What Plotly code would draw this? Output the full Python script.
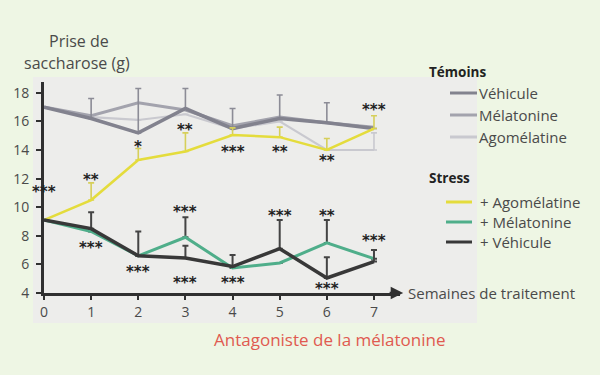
import plotly.graph_objects as go

# ---------------- data ----------------
weeks = [0, 1, 2, 3, 4, 5, 6, 7]
week_labels = ["0", "1", "2", "3", "4", "5", "6", "7"]
y_ticks = [4, 6, 8, 10, 12, 14, 16, 18]

# Témoins (controls)
temoin_vehicule = [17.0, 16.2, 15.2, 16.9, 15.5, 16.2, 15.9, 15.5]
temoin_melatonine = [17.0, 16.4, 17.3, 16.8, 15.7, 16.3, 15.9, 15.6]
temoin_agomelatine = [17.0, 16.3, 16.1, 16.5, 15.5, 16.0, 14.0, 14.0]
temoin_vehicule_err = [None, 1.4, 3.1, 1.4, 1.4, 1.65, 1.4, None]
temoin_agomelatine_err = [None, None, None, None, None, None, None, 1.2]

# Stress
stress_agomelatine = [9.1, 10.5, 13.3, 13.9, 15.05, 14.9, 14.0, 15.5]
stress_melatonine = [9.1, 8.3, 6.6, 7.9, 5.75, 6.1, 7.5, 6.4]
stress_vehicule = [9.1, 8.5, 6.6, 6.45, 5.85, 7.1, 5.05, 6.2]
stress_agomelatine_err = [None, 1.2, 0.8, 1.3, 0.5, 0.7, 0.8, 0.9]
stress_melatonine_err = [None, None, None, 1.4, None, None, 1.6, None]
stress_vehicule_err = [None, 1.15, 1.7, 0.85, 0.8, 2.0, 1.45, 0.8]

# significance marks (week, value where the mark sits, text)
sig_agomelatine_weeks = [0, 1, 2, 3, 4, 5, 6, 7]
sig_agomelatine_at = [11.34, 12.18, 14.49, 15.68, 14.14, 14.14, 13.51, 17.08]
sig_agomelatine_txt = ["***", "**", "*", "**", "***", "**", "**", "***"]

sig_stress_weeks = [1, 2, 3, 3, 4, 5, 6, 6, 7]
sig_stress_at = [7.43, 5.75, 9.94, 4.98, 4.98, 9.66, 9.66, 4.56, 7.92]
sig_stress_txt = ["***", "***", "***", "***", "***", "***", "**", "***", "***"]

antagonist_week = 6

# ---------------- layout constants ----------------
W, H = 600, 375
ML, MR, MT, MB = 44, 200, 82, 82
PW, PH = W - ML - MR, H - MT - MB
X_RANGE = [0, 7.552]
Y_RANGE = [4, 18.755]

FONT = "Open Sans"
TXT = "#4a4a4a"
AX = "#303030"

def px(x):
    return (x - ML) / PW

def py(y):
    return (H - MB - y) / PH

C_TV = "#82828e"
C_TM = "#a3a3ad"
C_TA = "#c9c9cf"
C_SA = "#e4dc3c"
C_SM = "#4fae8a"
C_SV = "#383838"

fig = go.Figure()

def err(arr, color, thick=1.6, width=3):
    return dict(type="data", symmetric=False, array=arr,
                arrayminus=[0 if a is not None else None for a in arr],
                color=color, thickness=thick, width=width, visible=True)

# control lines
fig.add_trace(go.Scatter(x=weeks, y=temoin_agomelatine, mode="lines",
                         line=dict(color=C_TA, width=2.2),
                         error_y=err(temoin_agomelatine_err, C_TA),
                         cliponaxis=False, showlegend=False))
fig.add_trace(go.Scatter(x=weeks, y=temoin_melatonine, mode="lines",
                         line=dict(color=C_TM, width=3),
                         cliponaxis=False, showlegend=False))
fig.add_trace(go.Scatter(x=weeks, y=temoin_vehicule, mode="lines",
                         line=dict(color=C_TV, width=3.5),
                         error_y=err(temoin_vehicule_err, "#8c8c96"),
                         cliponaxis=False, showlegend=False))
# stress lines
fig.add_trace(go.Scatter(x=weeks, y=stress_agomelatine, mode="lines",
                         line=dict(color=C_SA, width=2.5),
                         error_y=err(stress_agomelatine_err, "#d6cf5a"),
                         cliponaxis=False, showlegend=False))
fig.add_trace(go.Scatter(x=weeks, y=stress_melatonine, mode="lines",
                         line=dict(color=C_SM, width=3),
                         error_y=err(stress_melatonine_err, "#444444", 2),
                         cliponaxis=False, showlegend=False))
fig.add_trace(go.Scatter(x=weeks, y=stress_vehicule, mode="lines",
                         line=dict(color=C_SV, width=3.5),
                         error_y=err(stress_vehicule_err, "#444444", 2),
                         cliponaxis=False, showlegend=False))

STAR_FONT = dict(family="DejaVu Sans", size=15, color="#222")
annotations = []
for w, v, t in zip(sig_agomelatine_weeks, sig_agomelatine_at, sig_agomelatine_txt):
    annotations.append(dict(x=w, y=v, text="<b>%s</b>" % t, showarrow=False,
                            xanchor="center", yanchor="middle",
                            font=STAR_FONT, yshift=-4))
for w, v, t in zip(sig_stress_weeks, sig_stress_at, sig_stress_txt):
    annotations.append(dict(x=w, y=v, text="<b>%s</b>" % t, showarrow=False,
                            xanchor="center", yanchor="middle",
                            font=STAR_FONT, yshift=-4))

# axis arrow head
annotations.append(dict(x=7.62, y=4, ax=7.3, ay=4, axref="x", ayref="y",
                        xref="x", yref="y", showarrow=True, arrowhead=2,
                        arrowsize=1, arrowwidth=2.5, arrowcolor=AX, text=""))
annotations.append(dict(x=px(406), y=4, xref="paper", yref="y", xanchor="left",
                        yanchor="middle",
                        text="Semaines de traitement", showarrow=False,
                        font=dict(family=FONT, size=15, color=TXT)))
# y title
annotations.append(dict(x=px(79), y=py(41), xref="paper", yref="paper",
                        xanchor="center", yanchor="middle",
                        text="Prise de", showarrow=False,
                        font=dict(family=FONT, size=16, color=TXT)))
annotations.append(dict(x=px(77), y=py(63), xref="paper", yref="paper",
                        xanchor="center", yanchor="middle",
                        text="saccharose (g)", showarrow=False,
                        font=dict(family=FONT, size=16, color=TXT)))
# antagonist arrow + text
annotations.append(dict(x=antagonist_week, y=3.3, ax=0, ay=16, showarrow=True,
                        arrowhead=2, arrowsize=1, arrowwidth=1.8,
                        arrowcolor="#e05a50", text=""))
annotations.append(dict(x=px(330), y=py(339), xref="paper", yref="paper",
                        xanchor="center", yanchor="middle",
                        text="Antagoniste de la mélatonine", showarrow=False,
                        font=dict(family=FONT, size=17, color="#e05a50")))

# manual legend
shapes = [dict(type="rect", xref="paper", yref="paper", x0=px(33), x1=px(477),
               y0=py(323), y1=py(77), fillcolor="#ededeb", line=dict(width=0),
               layer="below")]
annotations.append(dict(x=px(427), y=py(72), xref="paper", yref="paper",
                        xanchor="left", yanchor="middle",
                        text="<b>Témoins</b>", showarrow=False,
                        font=dict(family=FONT, size=13.5, color="#222")))
annotations.append(dict(x=px(427), y=py(178), xref="paper", yref="paper",
                        xanchor="left", yanchor="middle",
                        text="<b>Stress</b>", showarrow=False,
                        font=dict(family=FONT, size=13.5, color="#222")))
leg_t = [("Véhicule", C_TV, 93), ("Mélatonine", C_TM, 115), ("Agomélatine", C_TA, 137)]
for name, col, yy in leg_t:
    shapes.append(dict(type="line", xref="paper", yref="paper", x0=px(450), x1=px(477),
                       y0=py(yy), y1=py(yy), line=dict(color=col, width=3)))
    annotations.append(dict(x=px(477), y=py(yy), xref="paper", yref="paper",
                            xanchor="left", yanchor="middle", text=name, showarrow=False,
                            font=dict(family=FONT, size=15, color=TXT)))
leg_s = [("+ Agomélatine", C_SA, 202), ("+ Mélatonine", C_SM, 222), ("+ Véhicule", C_SV, 242)]
for name, col, yy in leg_s:
    shapes.append(dict(type="line", xref="paper", yref="paper", x0=px(446), x1=px(472),
                       y0=py(yy), y1=py(yy), line=dict(color=col, width=3)))
    annotations.append(dict(x=px(478), y=py(yy), xref="paper", yref="paper",
                            xanchor="left", yanchor="middle", text=name, showarrow=False,
                            font=dict(family=FONT, size=15, color=TXT)))

fig.update_layout(
    width=W, height=H,
    margin=dict(l=ML, r=MR, t=MT, b=MB),
    paper_bgcolor="#eef6e4",
    plot_bgcolor="rgba(0,0,0,0)",
    showlegend=False,
    annotations=annotations,
    shapes=shapes,
    xaxis=dict(range=X_RANGE, tickvals=weeks, ticktext=week_labels,
               showgrid=False, zeroline=False, showline=True, linecolor=AX,
               linewidth=3, ticks="outside", ticklen=4, tickwidth=2,
               tickcolor=AX, tickfont=dict(family=FONT, size=14, color=TXT)),
    yaxis=dict(range=Y_RANGE, tickvals=y_ticks,
               showgrid=False, zeroline=False, showline=True, linecolor=AX,
               linewidth=3, ticks="outside", ticklen=5, tickwidth=2,
               tickcolor=AX, ticklabelstandoff=4,
               tickfont=dict(family=FONT, size=14, color=TXT)),
)

fig.write_html("out.html", config={"displayModeBar": False},
               post_script="document.body.style.margin='0';document.body.style.overflow='hidden';")
